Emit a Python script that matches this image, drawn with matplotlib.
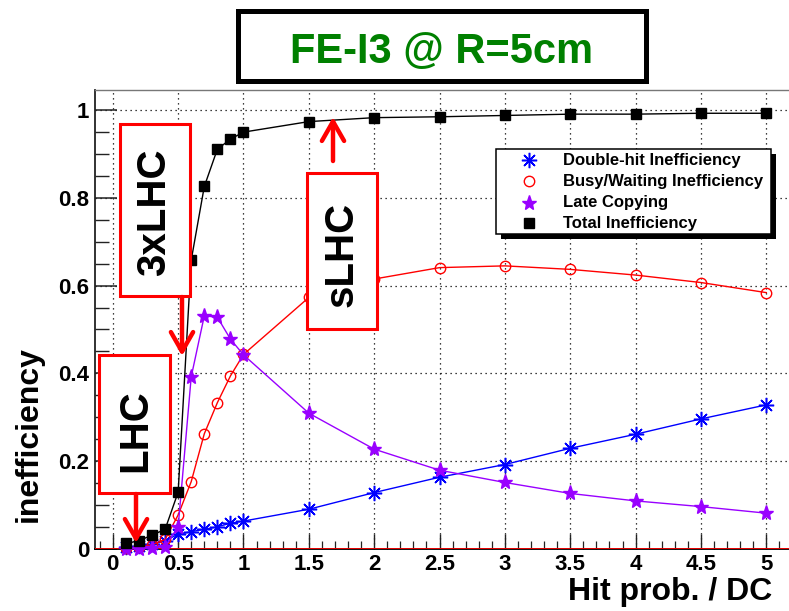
import matplotlib
matplotlib.use('Agg')
import matplotlib.pyplot as plt
from matplotlib.patches import Rectangle, FancyArrowPatch
from matplotlib.lines import Line2D
from matplotlib.ticker import MultipleLocator, FixedLocator, FixedFormatter

# ---------------- data ----------------
hit_prob = [0.1, 0.2, 0.3, 0.4, 0.5, 0.6, 0.7, 0.8, 0.9, 1.0,
            1.5, 2.0, 2.5, 3.0, 3.5, 4.0, 4.5, 5.0]
double_hit = [0.003, 0.006, 0.010, 0.018, 0.033, 0.039, 0.044, 0.050, 0.058, 0.063,
              0.090, 0.128, 0.163, 0.192, 0.229, 0.261, 0.296, 0.328]
busy_wait = [0.001, 0.003, 0.009, 0.021, 0.077, 0.153, 0.262, 0.333, 0.394, 0.443,
             0.573, 0.615, 0.641, 0.645, 0.637, 0.624, 0.607, 0.584]
late_copy = [0.000, 0.000, 0.002, 0.005, 0.050, 0.392, 0.531, 0.528, 0.478, 0.442,
             0.309, 0.227, 0.179, 0.151, 0.126, 0.109, 0.096, 0.081]
total_ineff = [0.012, 0.018, 0.031, 0.044, 0.129, 0.658, 0.826, 0.911, 0.934, 0.950,
               0.974, 0.983, 0.985, 0.988, 0.991, 0.991, 0.993, 0.993]

series_labels = ["Double-hit Inefficiency", "Busy/Waiting Inefficiency",
                 "Late Copying", "Total Inefficiency"]
title_text = "FE-I3 @ R=5cm"
x_label = "Hit prob. / DC"
y_label = "inefficiency"
scenario_labels = ["LHC", "3xLHC", "sLHC"]
xtick_vals = [0, 0.5, 1, 1.5, 2, 2.5, 3, 3.5, 4, 4.5, 5]
xtick_labels = ["0", "0.5", "1", "1.5", "2", "2.5", "3", "3.5", "4", "4.5", "5"]
ytick_vals = [0, 0.2, 0.4, 0.6, 0.8, 1.0]
ytick_labels = ["0", "0.2", "0.4", "0.6", "0.8", "1"]

# ---------------- figure ----------------
plt.rcParams['font.family'] = ['Liberation Sans', 'DejaVu Sans']
W, H = 789, 611
fig = plt.figure(figsize=(W / 100, H / 100), dpi=100)
fig.patch.set_facecolor('white')

def fx(px):
    return px / W

def fy(py):
    return 1 - py / H

# axes geometry (pixel frame)
x_px0, x_scale = 112.8, 130.7
y_px0, y_scale = 548.7, 438.5
left_px, right_px, top_px = 95, 805, 90
ax = fig.add_axes([fx(left_px), fy(y_px0), (right_px - left_px) / W, (y_px0 - top_px) / H])
ax.set_xlim((left_px - x_px0) / x_scale, (right_px - x_px0) / x_scale)
ax.set_ylim(0, (y_px0 - top_px) / y_scale)

colors = {'dh': '#0000ff', 'busy': '#ff0000', 'late': '#9900ff', 'tot': '#000000'}

ax.plot(hit_prob, double_hit, color=colors['dh'], lw=1.0, marker=(8, 2, 0),
        ms=11, mew=1.1, mec=colors['dh'], zorder=4, clip_on=False)
ax.plot(hit_prob, busy_wait, color=colors['busy'], lw=1.0, marker='o', ms=7.5,
        mfc='none', mec=colors['busy'], mew=1.0, zorder=5, clip_on=False)
ax.plot(hit_prob, late_copy, color=colors['late'], lw=1.0, marker='*', ms=11,
        mfc=colors['late'], mec=colors['late'], zorder=6, clip_on=False)
ax.plot(hit_prob, total_ineff, color=colors['tot'], lw=1.0, marker='s', ms=6.5,
        mfc='black', mec='black', zorder=7, clip_on=False)

# red line along zero
ax.axhline(0, color='red', lw=2.0, zorder=3)

# ticks
ax.xaxis.set_major_locator(FixedLocator(xtick_vals))
ax.xaxis.set_major_formatter(FixedFormatter(xtick_labels))
ax.yaxis.set_major_locator(FixedLocator(ytick_vals))
ax.yaxis.set_major_formatter(FixedFormatter(ytick_labels))
ax.xaxis.set_minor_locator(MultipleLocator(0.1))
ax.yaxis.set_minor_locator(MultipleLocator(0.05))
ax.tick_params(axis='both', which='both', direction='in', top=False, right=False,
               color='#222222')
ax.tick_params(axis='y', which='major', length=16, width=1.1, pad=4)
ax.tick_params(axis='y', which='minor', length=10, width=1.0)
ax.tick_params(axis='x', which='major', length=11, width=1.0, pad=4)
ax.tick_params(axis='x', which='minor', length=6, width=0.9)
for lab in ax.get_xticklabels() + ax.get_yticklabels():
    lab.set_fontsize(16)
    lab.set_fontweight('bold')

ax.grid(True, which='major', color='black', linestyle=(0, (1, 3)), lw=0.9)
ax.set_axisbelow(True)

ax.spines['right'].set_visible(False)
ax.spines['left'].set_linewidth(1.3)
ax.spines['left'].set_color('#222222')
ax.spines['bottom'].set_linewidth(1.3)
ax.spines['top'].set_linewidth(1.0)
ax.spines['top'].set_color('#777777')

ax.set_xlabel(x_label, fontsize=23, fontweight='bold', ha='right', va='baseline')
ax.xaxis.set_label_coords(fx(772), fy(600), transform=fig.transFigure)
ax.set_ylabel(y_label, fontsize=23, fontweight='bold', va='bottom', ha='center')
ax.yaxis.set_label_coords(fx(44), fy(434), transform=fig.transFigure)

# ---------------- title box ----------------
fig.add_artist(Rectangle((fx(237.5), fy(80.5)), (645.5 - 237.5) / W, (80.5 - 10.5) / H,
                         transform=fig.transFigure, facecolor='white',
                         edgecolor='black', lw=3.6, zorder=10))
fig.text(fx(441.5), fy(63), title_text, color='#008000', fontsize=30,
         fontweight='bold', ha='center', va='baseline', zorder=11)

# ---------------- scenario boxes & arrows ----------------
def red_box(x0, y0, x1, y1, text, cx, cy):
    fig.add_artist(Rectangle((fx(x0 + 1.5), fy(y1 - 1.5)), (x1 - x0 - 3) / W,
                             (y1 - y0 - 3) / H, transform=fig.transFigure,
                             facecolor='white', edgecolor='red', lw=2.2, zorder=10))
    fig.text(fx(cx), fy(cy), text, rotation=90, fontsize=29, fontweight='bold',
             ha='center', va='center', color='black', zorder=11)

def red_arrow(x, y_from, y_to):
    fig.add_artist(FancyArrowPatch((fx(x), fy(y_from)), (fx(x), fy(y_to)),
                                   transform=fig.transFigure,
                                   arrowstyle='->,head_length=14,head_width=8',
                                   mutation_scale=1, color='red', lw=3.2,
                                   shrinkA=0, shrinkB=0, zorder=12))

red_box(97, 353, 171, 494, scenario_labels[0], 135, 431)
red_arrow(136, 494, 543)
red_box(118, 122, 191, 297, scenario_labels[1], 154, 212)
red_arrow(182, 297, 356)
red_box(305, 171, 378, 330, scenario_labels[2], 341.5, 254)
red_arrow(333, 161, 117)

# ---------------- legend ----------------
lx0, ly0, lx1, ly1 = 496, 149, 771, 234
fig.add_artist(Rectangle((fx(lx0 + 5), fy(ly1 + 5)), (lx1 - lx0) / W, (ly1 - ly0) / H,
                         transform=fig.transFigure, facecolor='black',
                         edgecolor='black', lw=0, zorder=13))
fig.add_artist(Rectangle((fx(lx0), fy(ly1)), (lx1 - lx0) / W, (ly1 - ly0) / H,
                         transform=fig.transFigure, facecolor='white',
                         edgecolor='black', lw=1.1, zorder=14))
row_y = [160, 181.5, 202.5, 223.5]
leg_styles = [
    dict(marker=(8, 2, 0), ms=11, mew=1.1, color=colors['dh'], mec=colors['dh']),
    dict(marker='o', ms=7.5, mfc='none', mec=colors['busy'], mew=1.0),
    dict(marker='*', ms=11, mfc=colors['late'], mec=colors['late']),
    dict(marker='s', ms=6.5, mfc='black', mec='black'),
]
for lab, yy, st in zip(series_labels, row_y, leg_styles):
    fig.add_artist(Line2D([fx(529)], [fy(yy)], transform=fig.transFigure,
                          linestyle='none', zorder=15, **st))
    fig.text(fx(563), fy(yy), lab, fontsize=12, fontweight='bold', ha='left',
             va='center', color='black', zorder=15)

fig.savefig('out.png', dpi=100)
